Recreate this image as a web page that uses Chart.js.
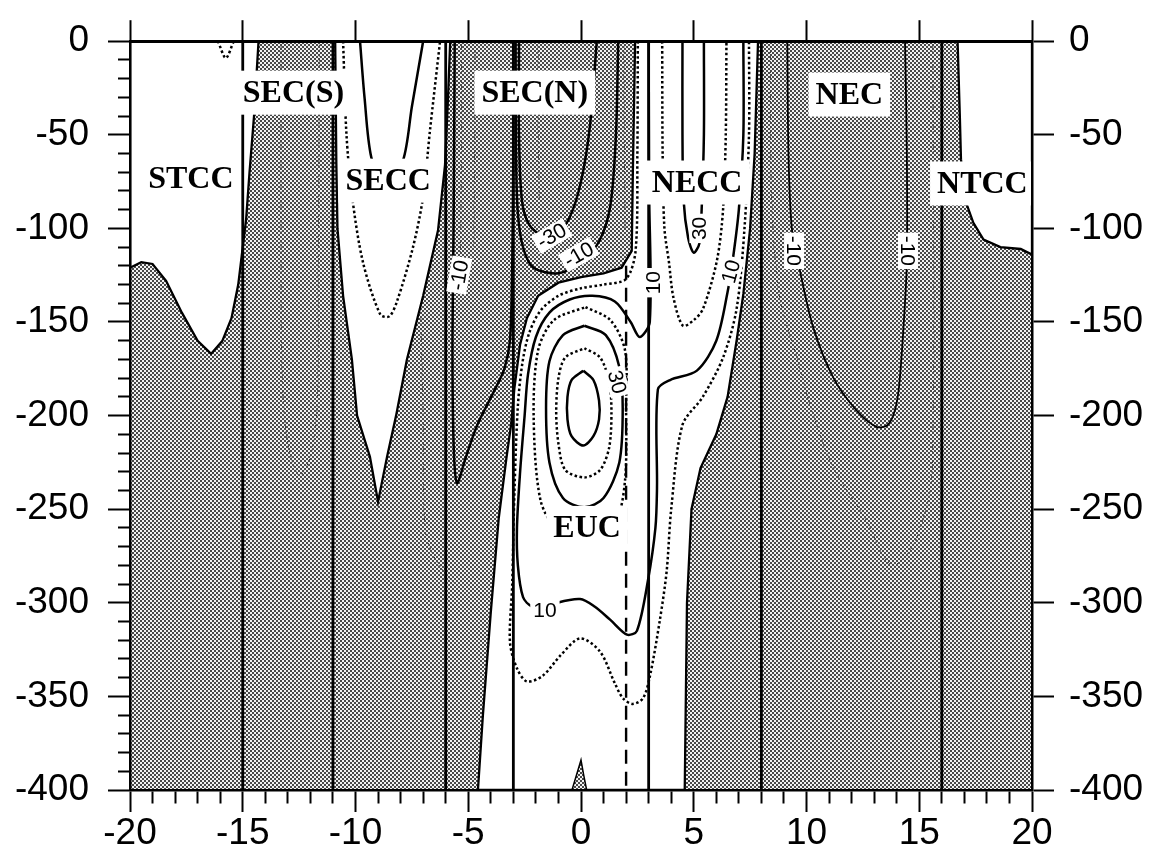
<!DOCTYPE html>
<html>
<head>
<meta charset="utf-8">
<script src="https://cdn.jsdelivr.net/npm/chart.js@4.4.1/dist/chart.umd.min.js"></script>
<style>
  html, body { margin: 0; padding: 0; background: #fff; }
  canvas { display: block; }
</style>
</head>
<body>
<canvas id="sectionChart" width="1153" height="860"></canvas>
<script>
// zonal current section: x = latitude, y = depth (m)
const latMin = -20, latMax = 20;
const depthMin = -400, depthMax = 0;

// station lines
const sectionLats = [-15, -11, -6, -3, 3, 8, 16];
const dashedLat = 2;
const dashedTop = -120;

// eastward (unshaded) areas, bounded by the zero contour
const stccWhite = [[-20,0],[-20,-121],[-19.5,-118],[-19.0,-119],[-18.4,-128],[-17.7,-145],[-17.0,-160],[-16.4,-167],[-15.9,-160],[-15.5,-148],[-15.2,-130],[-15.0,-110],[-14.85,-95],[-14.7,-70],[-14.5,-40],[-14.3,0],[-20,0]];
const seccWhite = [[-10.9,0],[-10.85,-65],[-10.8,-100],[-10.55,-136],[-10.16,-170],[-9.93,-200],[-9.36,-222],[-9.0,-246],[-8.6,-222],[-8.2,-200],[-7.72,-170],[-7.0,-136],[-6.34,-101],[-6.03,-66],[-5.9,-31],[-5.8,0],[-10.9,0]];
const eucWhite = [[2.4,0],[7.85,0],[7.7,-60],[7.5,-100],[7.2,-135],[6.9,-160],[6.5,-190],[6.0,-210],[5.3,-228],[4.9,-250],[4.7,-300],[4.6,-400],[-4.57,-400],[-4.35,-360],[-4.0,-305],[-3.65,-255],[-3.3,-222],[-3.1,-205],[-2.95,-185],[-2.7,-162],[-2.4,-148],[-1.9,-136],[-1.0,-129],[0,-126],[1.0,-124],[1.8,-121],[2.25,-112],[2.3,-70],[2.4,0]];
const ntccWhite = [[16.7,0],[16.8,-40],[16.85,-63],[17.0,-80],[17.1,-87],[17.4,-97],[17.85,-106],[18.6,-110],[19.5,-111],[20,-114],[20,0],[16.7,0]];
const deepWest = [[-0.4,-400],[-0.15,-390],[0,-384],[0.12,-392],[0.25,-400]];

// contours (solid)
const ten = [[3.0,0],[3.02,-80],[3.05,-150],[2.6,-158],[2.2,-150],[1.5,-139],[0.5,-136],[-0.5,-138],[-1.4,-145],[-2.0,-158],[-2.35,-178],[-2.5,-200],[-2.7,-230],[-2.84,-260],[-2.8,-280],[-2.57,-297],[-2.17,-302],[-1.6,-303],[-1.06,-300],[-0.04,-298],[0.6,-302],[1.29,-309],[2.04,-317],[2.48,-315],[2.97,-288],[3.3,-260],[3.37,-239],[3.41,-186],[3.95,-181],[5.14,-176],[6.0,-160],[6.5,-134],[6.74,-116],[7.0,-90],[7.2,-50],[7.2,0]];
const thirtyNecc = [[4.5,0],[4.5,-50],[4.55,-85],[4.75,-105],[5.0,-113],[5.25,-108],[5.35,-90],[5.45,-50],[5.45,0]];
const thirtyEuc = [[0.15,-152],[1.1,-157],[1.7,-174],[1.85,-196],[1.7,-225],[1.0,-244],[0.15,-249],[-0.8,-244],[-1.4,-225],[-1.55,-196],[-1.4,-171],[-0.8,-157],[0.15,-152]];
const fiftyEuc = [[0.1,-176],[0.55,-181],[0.8,-192],[0.8,-202],[0.55,-211],[0.1,-216],[-0.42,-211],[-0.6,-202],[-0.6,-190],[-0.42,-181],[0.1,-176]];
const minus30 = [[-2.75,0],[-2.75,-50],[-2.62,-85],[-2.3,-98],[-1.7,-104],[-1.1,-103],[-0.5,-94],[0,-75],[0.4,-45],[0.7,0]];
const minus10Mid = [[-2.9,0],[-2.88,-60],[-2.8,-92],[-2.55,-111],[-2.1,-121],[-1.0,-124],[0,-118],[0.8,-107],[1.3,-88],[1.55,-50],[1.65,0]];
const minus10West = [[-5.6,0],[-5.65,-100],[-5.7,-160],[-5.65,-215],[-5.5,-236],[-5.1,-222],[-4.6,-205],[-3.9,-188],[-3.4,-175],[-3.15,-160],[-3.05,-120],[-3.0,-60],[-3.0,0]];
const seccTen = [[-9.8,0],[-9.6,-30],[-9.3,-62],[-8.7,-78],[-7.9,-64],[-7.5,-35],[-7.0,0]];
const necMinus10 = [[9.15,0],[9.2,-60],[9.35,-100],[9.7,-122],[10.3,-153],[11.2,-180],[12.2,-197],[13.1,-206],[13.6,-205],[13.9,-198],[14.1,-185],[14.3,-153],[14.45,-118],[14.45,-60],[14.37,0]];

// contours (dotted)
const five = [[2.52,0],[2.5,-60],[2.42,-112],[2.0,-127],[1.0,-130],[0,-132],[-1.0,-136],[-1.8,-144],[-2.3,-156],[-2.6,-172],[-2.8,-195],[-2.95,-240],[-3.05,-290],[-3.15,-321],[-2.84,-335],[-2.4,-342],[-1.7,-339],[-0.9,-328],[-0.04,-319],[0.84,-326],[1.5,-343],[1.86,-351],[2.3,-354],[2.75,-351],[3.06,-339],[3.5,-309],[3.8,-283],[4.0,-250],[4.5,-205],[5.4,-190],[6.3,-169],[6.9,-143],[7.25,-100],[7.45,-50],[7.45,0]];
const twentyNecc = [[3.6,0],[3.62,-60],[3.7,-100],[3.9,-118],[4.1,-137],[4.52,-152],[5.0,-149],[5.41,-143],[6.03,-117],[6.3,-90],[6.42,-50],[6.45,0]];
const twentyEuc = [[0.2,-142],[1.3,-149],[1.95,-165],[2.0,-195],[1.95,-235],[1.5,-258],[0.3,-268],[-1.0,-262],[-1.8,-245],[-2.1,-200],[-1.9,-165],[-1.2,-149],[0.2,-142]];
const fortyEuc = [[0.15,-164],[0.85,-169],[1.25,-182],[1.35,-198],[1.25,-217],[0.85,-229],[0.15,-233],[-0.7,-229],[-1.0,-215],[-1.1,-198],[-1.0,-180],[-0.7,-169],[0.15,-164]];
const seccTwenty = [[-10.55,0],[-10.4,-50],[-10.15,-83],[-9.67,-118],[-8.9,-146],[-8.5,-147],[-8.16,-139],[-7.45,-110],[-7.0,-83],[-6.7,-48],[-6.25,0]];
const stccNotch = [[-16.1,0],[-15.75,-9],[-15.4,0]];

// faint hatched contours inside the shading
const faintSecS = [[-13.3,0],[-13.3,-100],[-13.25,-180],[-13.0,-215],[-12.5,-232],[-12.0,-222],[-11.7,-195],[-11.65,-120],[-11.6,0]];
const faintSecc = [[-7.1,-148],[-7.0,-200],[-6.9,-262],[-6.4,-278],[-5.6,-290]];
const faintWest = [[-5.3,0],[-5.3,-60],[-5.35,-118]];
const faintA = [[-4.7,0],[-4.72,-60],[-4.75,-110]];
const faintB = [[-1.9,0],[-1.9,-45],[-1.85,-85]];
const faintC = [[1.9,0],[1.92,-50],[1.95,-100]];
const faintNec = [[8.4,0],[8.45,-83],[8.8,-136],[9.6,-170],[10.2,-196],[11.2,-228],[12.7,-257],[13.4,-275],[13.85,-280],[14.4,-275],[14.9,-265],[15.5,-239],[15.6,-213],[15.65,-150],[15.6,0]];

// current names
const currentNames = ['STCC', 'SEC(S)', 'SECC', 'SEC(N)', 'NECC', 'NEC', 'NTCC', 'EUC'];
const currentLat = [-17.3, -12.75, -8.55, -2.05, 5.15, 11.9, 17.8, 0.27];
const currentDepth = [-73.5, -27.5, -74.5, -27.5, -75.5, -28.5, -76, -260];

// contour value labels
const contourText = ['-30', '-10', '10', '30', '10', '-10', '-10', '-10', '30', '10'];
const contourLat = [-1.3, -0.1, 3.2, 5.25, 6.65, -5.4, 9.45, 14.5, 1.6, -1.6];
const contourDepth = [-104, -114, -129, -100, -123, -125, -112, -112, -182, -304];
const contourAngle = [-30, -30, -90, -90, -75, -80, 90, 90, 75, 0];

function makeShade() {
  const c = document.createElement('canvas');
  c.width = 4; c.height = 4;
  const g = c.getContext('2d');
  g.fillStyle = '#f2f2f2';
  g.fillRect(0, 0, 4, 4);
  g.fillStyle = '#484848';
  g.fillRect(0, 0, 2, 2);
  g.fillRect(2, 2, 2, 2);
  return g.createPattern(c, 'repeat');
}
const shade = makeShade();

const pts = arr => arr.map(p => ({x: p[0], y: p[1]}));
let datasets = [];
function addLine(data, opts) {
  datasets.push(Object.assign({
    data: pts(data),
    borderColor: '#000',
    borderWidth: 2,
    pointRadius: 0,
    fill: false,
    tension: 0.3,
    order: 10
  }, opts));
}

// shading (westward flow) everywhere, then the eastward areas on top
addLine([[latMin, depthMax], [latMax, depthMax], [latMax, depthMin], [latMin, depthMin], [latMin, depthMax]],
  {fill: 'shape', backgroundColor: shade, borderColor: 'rgba(0,0,0,0)', tension: 0, order: 100});
[stccWhite, seccWhite, eucWhite, ntccWhite].forEach(a =>
  addLine(a, {fill: 'shape', backgroundColor: '#fff', borderWidth: 2.3, tension: 0, order: 90}));
addLine(deepWest, {fill: 'shape', backgroundColor: shade, borderWidth: 1.5, tension: 0, order: 85});

[faintSecS, faintSecc, faintWest, faintA, faintB, faintC, faintNec].forEach(a =>
  addLine(a, {borderColor: '#444', borderWidth: 1, borderDash: [2, 3], order: 80}));

[five, twentyNecc, twentyEuc, fortyEuc, seccTwenty, stccNotch].forEach(a =>
  addLine(a, {borderWidth: 2.5, borderDash: [2.5, 2.5], order: 60}));

[ten, thirtyNecc, thirtyEuc, fiftyEuc, minus30, minus10Mid, minus10West, seccTen].forEach(a =>
  addLine(a, {borderWidth: 2.5, order: 50}));
addLine(necMinus10, {borderWidth: 1.8, order: 50});

sectionLats.forEach(lat =>
  addLine([[lat, depthMax], [lat, depthMin]], {borderWidth: 2.8, tension: 0, order: 40}));
addLine([[dashedLat, dashedTop], [dashedLat, depthMin]], {borderWidth: 2.4, borderDash: [14, 8], tension: 0, order: 40});

const axisFont = {family: "'Liberation Sans', Arial, sans-serif", size: 37};

const labelPlugin = {
  id: 'currentLabels',
  afterDatasetsDraw(chart) {
    const ctx = chart.ctx;
    const xs = chart.scales.x, ys = chart.scales.y;
    ctx.save();
    ctx.textAlign = 'center';
    ctx.textBaseline = 'middle';
    ctx.font = "21px 'Liberation Sans', Arial, sans-serif";
    contourText.forEach((t, i) => {
      ctx.save();
      ctx.translate(xs.getPixelForValue(contourLat[i]), ys.getPixelForValue(contourDepth[i]));
      ctx.rotate(contourAngle[i] * Math.PI / 180);
      const w = ctx.measureText(t).width;
      ctx.fillStyle = '#fff';
      ctx.fillRect(-w / 2 - 3, -10, w + 6, 20);
      ctx.fillStyle = '#000';
      ctx.fillText(t, 0, 1);
      ctx.restore();
    });
    ctx.font = "bold 32px 'Liberation Serif', 'Times New Roman', serif";
    currentNames.forEach((t, i) => {
      const px = xs.getPixelForValue(currentLat[i]);
      const py = ys.getPixelForValue(currentDepth[i]);
      const w = ctx.measureText(t).width;
      ctx.fillStyle = '#fff';
      ctx.fillRect(px - w / 2 - 7, py - 22, w + 14, 44);
      ctx.fillStyle = '#000';
      ctx.fillText(t, px, py + 1);
    });
    ctx.restore();
  }
};

new Chart(document.getElementById('sectionChart'), {
  type: 'line',
  data: {datasets: datasets},
  plugins: [labelPlugin],
  options: {
    responsive: false,
    animation: false,
    devicePixelRatio: 1,
    events: [],
    layout: {padding: 0},
    plugins: {legend: {display: false}, tooltip: {enabled: false}},
    scales: {
      x: {
        type: 'linear', position: 'bottom', min: latMin, max: latMax,
        ticks: {
          stepSize: 1, autoSkip: false, maxRotation: 0, padding: 0,
          color: '#000', font: axisFont,
          callback: v => (v % 5 === 0 ? String(v) : '')
        },
        grid: {
          drawOnChartArea: false, tickLength: 22, tickWidth: 2, tickColor: '#000', z: 1,
          tickBorderDash: c => (c.tick && c.tick.value % 5 === 0 ? [] : [12, 300])
        },
        border: {color: '#000', width: 2.5, z: 1},
        afterFit: s => { s.height = 70; }
      },
      xTop: {
        type: 'linear', position: 'top', min: latMin, max: latMax,
        ticks: {stepSize: 5, display: false},
        grid: {drawOnChartArea: false, tickLength: 21, tickWidth: 2, tickColor: '#000', z: 1},
        border: {color: '#000', width: 3, z: 1},
        afterFit: s => { s.height = 28; }
      },
      y: {
        type: 'linear', position: 'left', min: depthMin, max: depthMax,
        ticks: {
          stepSize: 10, autoSkip: false, padding: 19,
          color: '#000', font: axisFont,
          callback: v => (v % 50 === 0 ? String(v) : '')
        },
        grid: {
          drawOnChartArea: false, tickLength: 22, tickWidth: 2, tickColor: '#000', z: 1,
          tickBorderDash: c => (c.tick && c.tick.value % 50 === 0 ? [] : [0, 10, 12, 300])
        },
        border: {color: '#000', width: 2.5, z: 1},
        afterFit: s => { s.width = 130; }
      },
      yRight: {
        type: 'linear', position: 'right', min: depthMin, max: depthMax,
        ticks: {
          stepSize: 50, autoSkip: false, padding: 15,
          color: '#000', font: axisFont
        },
        grid: {drawOnChartArea: false, tickLength: 22, tickWidth: 2, tickColor: '#000', z: 1},
        border: {color: '#000', width: 2.5, z: 1},
        afterFit: s => { s.width = 121; }
      }
    }
  }
});
</script>
</body>
</html>
